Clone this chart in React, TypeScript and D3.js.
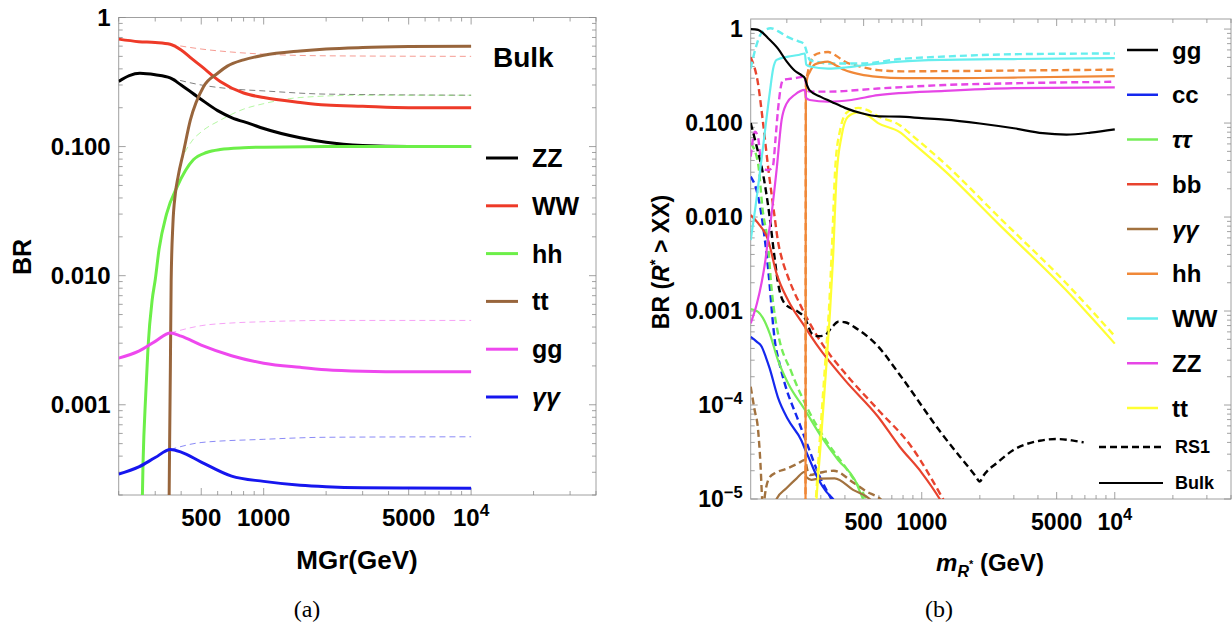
import React from "react";
import * as d3 from "d3";

type Pt = [number, number];

// ---------- (a) Bulk graviton: solid = Bulk, thin dashed = RS1 reference ----------
const aZZ: Pt[] = [[200, 0.32], [225, 0.355], [253, 0.37], [300, 0.36], [354, 0.34], [400, 0.3], [494, 0.235], [600, 0.19], [700, 0.168], [863, 0.15], [1000, 0.138], [1500, 0.117], [2000, 0.108], [3000, 0.102], [5000, 0.1], [10000, 0.1]];
const aWW: Pt[] = [[200, 0.68], [250, 0.65], [300, 0.64], [354, 0.62], [400, 0.56], [450, 0.48], [500, 0.42], [617, 0.32], [800, 0.26], [1000, 0.24], [1500, 0.22], [2000, 0.21], [3000, 0.205], [5000, 0.2], [10000, 0.2]];
const aHH: Pt[] = [[250, 1e-6], [258, 1e-4], [262, 3.5e-4], [270, 0.0012], [277, 0.0028], [290, 0.0065], [300, 0.0093], [313, 0.016], [340, 0.03], [383, 0.049], [458, 0.079], [530, 0.09], [617, 0.095], [800, 0.098], [1000, 0.099], [2000, 0.1], [10000, 0.1]];
const aTT: Pt[] = [[345, 1e-6], [349, 1e-4], [352, 5e-4], [355, 0.002], [358, 0.009], [365, 0.025], [375, 0.043], [387, 0.059], [410, 0.09], [443, 0.16], [512, 0.29], [600, 0.37], [668, 0.42], [800, 0.47], [1000, 0.51], [1500, 0.55], [2000, 0.57], [3000, 0.585], [5000, 0.595], [10000, 0.6]];
const aGG: Pt[] = [[200, 0.0023], [250, 0.0026], [300, 0.0031], [355, 0.0036], [400, 0.0034], [500, 0.0029], [700, 0.0024], [1000, 0.0021], [1500, 0.00195], [2000, 0.00187], [3000, 0.00182], [5000, 0.0018], [10000, 0.0018]];
const aAA: Pt[] = [[200, 2.9e-4], [250, 3.3e-4], [300, 3.9e-4], [355, 4.5e-4], [400, 4.3e-4], [500, 3.6e-4], [700, 2.8e-4], [1000, 2.55e-4], [1500, 2.38e-4], [2000, 2.32e-4], [3000, 2.28e-4], [5000, 2.27e-4], [10000, 2.26e-4]];

const aZZrs: Pt[] = [[355, 0.34], [500, 0.3], [700, 0.28], [1000, 0.27], [2000, 0.255], [10000, 0.25]];
const aWWrs: Pt[] = [[355, 0.62], [500, 0.57], [700, 0.54], [1000, 0.52], [2000, 0.505], [10000, 0.5]];
const aHHrs: Pt[] = [[365, 0.038], [400, 0.075], [450, 0.11], [500, 0.13], [617, 0.16], [800, 0.195], [1000, 0.215], [1500, 0.24], [3000, 0.25], [10000, 0.25]];
const aGGrs: Pt[] = [[355, 0.0036], [500, 0.0041], [700, 0.0043], [1000, 0.0044], [2000, 0.0045], [10000, 0.0045]];
const aAArs: Pt[] = [[355, 4.5e-4], [500, 5.1e-4], [1000, 5.4e-4], [2000, 5.6e-4], [10000, 5.65e-4]];

const aLegend = ["ZZ", "WW", "hh", "tt", "gg", "γγ"];
const aXMajor = [500, 1000, 5000, 10000];
const aYMajor = [1, 0.1, 0.01, 0.001];

// ---------- (b) R* decays: solid = Bulk, dashed = RS1 ----------
const bGG: Pt[] = [[130, 1.0], [142, 0.98], [160, 0.8], [180, 0.62], [200, 0.45], [220, 0.36], [240, 0.32], [248, 0.3], [255, 0.25], [262, 0.224], [300, 0.19], [340, 0.169], [400, 0.145], [488, 0.127], [600, 0.118], [769, 0.117], [1000, 0.113], [1316, 0.109], [2000, 0.099], [3000, 0.088], [4237, 0.078], [5621, 0.0755], [7500, 0.079], [10000, 0.0856]];
const bGGrs: Pt[] = [[130, 0.1], [140, 0.055], [150, 0.03], [163, 0.01], [172, 0.004], [180, 0.002], [195, 0.0012], [229, 0.00098], [248, 0.00084], [258, 0.0007], [268, 0.00058], [290, 0.00054], [314, 0.00055], [340, 0.00066], [370, 0.00077], [400, 0.00076], [450, 0.00067], [594, 0.00042], [769, 0.00021], [1265, 5e-5], [1900, 1.75e-5], [1998, 1.53e-5], [2080, 1.75e-5], [2500, 2.5e-5], [2971, 3.3e-5], [4085, 4.17e-5], [4990, 4.35e-5], [6000, 4.2e-5], [6900, 4.0e-5]];
const bCC: Pt[] = [[130, 5.3e-4], [140, 4.7e-4], [148, 4.2e-4], [156, 3.2e-4], [163, 2.45e-4], [180, 1.2e-4], [203, 7e-5], [238, 4.2e-5], [250, 3.3e-5], [265, 2.5e-5], [290, 1.65e-5], [320, 1.2e-5], [347, 1e-5], [370, 8e-6]];
const bCCrs: Pt[] = [[130, 0.027], [142, 0.0166], [150, 0.0086], [154, 0.0057], [163, 0.0019], [168, 9e-4], [173, 5e-4], [183, 2.8e-4], [195, 1.7e-4], [229, 6.9e-5], [258, 3.6e-5], [290, 1.9e-5], [340, 1e-5], [360, 8e-6]];
const bTauTau: Pt[] = [[130, 1.05e-3], [142, 9.8e-4], [150, 8.5e-4], [163, 5.8e-4], [180, 3.0e-4], [203, 1.7e-4], [248, 8.9e-5], [302, 4.6e-5], [369, 2.6e-5], [450, 1.6e-5], [497, 1e-5], [530, 8e-6]];
const bTauTaurs: Pt[] = [[130, 0.061], [142, 0.037], [150, 0.0118], [160, 0.005], [166, 0.0019], [172, 0.001], [180, 5.8e-4], [212, 2.2e-4], [258, 8.9e-5], [327, 3.9e-5], [415, 2.0e-5], [517, 1e-5], [550, 8e-6]];
const bBB: Pt[] = [[130, 0.0105], [142, 0.0086], [160, 0.0057], [177, 0.0025], [203, 0.0013], [248, 6.8e-4], [290, 4.2e-4], [399, 1.85e-4], [594, 7.5e-5], [769, 3.6e-5], [1000, 1.9e-5], [1240, 1e-5], [1300, 8.5e-6]];
const bBBrs: Pt[] = [[130, 0.5], [142, 0.26], [150, 0.108], [160, 0.034], [173, 0.01], [180, 0.0055], [188, 0.0037], [203, 0.0023], [238, 0.0011], [302, 4.6e-4], [399, 2.2e-4], [594, 8.9e-5], [884, 3.6e-5], [1290, 1e-5], [1350, 8.5e-6]];
const bAA: Pt[] = [[170, 7e-6], [177, 1e-5], [199, 1.3e-5], [225, 1.66e-5], [248, 1.95e-5], [253, 1.7e-5], [268, 1.6e-5], [296, 1.65e-5], [354, 1.66e-5], [441, 1.25e-5], [538, 1e-5], [580, 8.5e-6]];
const bAArs: Pt[] = [[130, 1.57e-4], [136, 9e-5], [142, 5.4e-5], [146, 2.4e-5], [149, 1e-5], [151, 7e-6], [154, 1.1e-5], [163, 1.7e-5], [175, 1.9e-5], [199, 2.1e-5], [225, 2.35e-5], [248, 2.6e-5], [256, 2.0e-5], [263, 1.8e-5], [296, 1.9e-5], [350, 2.0e-5], [441, 1.5e-5], [519, 1.2e-5], [610, 1e-5], [660, 8.5e-6]];
const bHH: Pt[] = [[249, 5e-6], [250, 1e-5], [250.6, 0.01], [251, 0.2], [255, 0.3], [263, 0.35], [279, 0.42], [300, 0.44], [327, 0.45], [360, 0.41], [399, 0.366], [480, 0.33], [594, 0.31], [800, 0.3], [1316, 0.3], [3000, 0.305], [10000, 0.316]];
const bHHrs: Pt[] = [[249, 5e-6], [250, 1e-5], [250.6, 0.01], [251, 0.25], [258, 0.36], [266, 0.45], [279, 0.53], [300, 0.56], [327, 0.57], [360, 0.52], [399, 0.45], [480, 0.4], [594, 0.366], [800, 0.355], [1316, 0.357], [3000, 0.362], [10000, 0.37]];
const bWW: Pt[] = [[130, 0.0057], [137, 0.012], [150, 0.052], [163, 0.207], [170, 0.38], [177, 0.47], [203, 0.51], [230, 0.53], [248, 0.55], [252, 0.42], [263, 0.4], [327, 0.38], [400, 0.39], [488, 0.41], [769, 0.45], [1316, 0.47], [3000, 0.48], [10000, 0.49]];
const bWWrs: Pt[] = [[130, 0.38], [137, 0.6], [145, 0.85], [154, 0.98], [165, 1.02], [180, 0.95], [203, 0.82], [230, 0.74], [245, 0.7], [255, 0.55], [263, 0.47], [300, 0.44], [327, 0.43], [488, 0.43], [769, 0.48], [1316, 0.51], [3000, 0.54], [10000, 0.55]];
const bZZ: Pt[] = [[130, 7.4e-4], [140, 0.0012], [148, 0.002], [155, 0.0035], [160, 0.006], [166, 0.01], [177, 0.0316], [188, 0.108], [199, 0.16], [220, 0.2], [248, 0.225], [252, 0.185], [263, 0.176], [327, 0.169], [432, 0.176], [594, 0.198], [1316, 0.22], [3000, 0.235], [10000, 0.24]];
const bZZrs: Pt[] = [[130, 0.044], [137, 0.081], [142, 0.07], [148, 0.034], [160, 0.0316], [169, 0.034], [175, 0.07], [180, 0.138], [191, 0.287], [220, 0.3], [242, 0.31], [248, 0.3], [255, 0.23], [263, 0.216], [327, 0.216], [594, 0.233], [1316, 0.254], [3000, 0.265], [10000, 0.275]];
const bTop: Pt[] = [[283, 8e-6], [285, 1e-5], [300, 4e-5], [320, 2.5e-4], [335, 0.001], [347, 0.0036], [362, 0.027], [384, 0.072], [415, 0.117], [468, 0.13], [520, 0.122], [594, 0.1], [769, 0.08], [884, 0.063], [1316, 0.031], [2535, 0.0082], [5570, 0.00168], [10000, 4.5e-4]];
const bToprs: Pt[] = [[281, 8e-6], [283, 1e-5], [298, 5e-5], [317, 3e-4], [332, 0.0012], [343, 0.005], [357, 0.035], [378, 0.085], [410, 0.13], [468, 0.145], [520, 0.138], [594, 0.118], [769, 0.095], [884, 0.075], [1316, 0.037], [2535, 0.0098], [5570, 0.002], [10000, 5.4e-4]];

const bLegend = ["gg", "cc", "ττ", "bb", "γγ", "hh", "WW", "ZZ", "tt"];
const bXMajor = [500, 1000, 5000, 10000];
const bYMajor = [1, 0.1, 0.01, 0.001, 1e-4, 1e-5];

// ---------- styling ----------
const SANS = "'Liberation Sans', Arial, sans-serif";
const SERIF = "'Liberation Serif', 'DejaVu Serif', serif";

const aColors = ["#000000", "#ee3a28", "#6cef48", "#98653c", "#ee48ee", "#1616ee"];
const bColors = ["#000000", "#1428ee", "#76ee58", "#e8432e", "#a2723f", "#f08838", "#66eeee", "#e646e6", "#ffff33"];

type Series = { data: Pt[]; color: string; width: number; dash?: string; opacity?: number };

type PanelProps = {
  id: string;
  left: number; right: number; top: number; bottom: number;
  xDomain: [number, number]; yDomain: [number, number];
  xMajor: number[]; yMajor: number[];
  series: Series[];
  fs: number;
};

function minorTicks(domain: [number, number], majors: number[]) {
  const out: number[] = [];
  const lo = Math.floor(Math.log10(domain[0]));
  const hi = Math.ceil(Math.log10(domain[1]));
  for (let e = lo; e <= hi; e++) {
    for (let k = 1; k <= 9; k++) {
      const v = k * Math.pow(10, e);
      if (v < domain[0] * 0.999 || v > domain[1] * 1.001) continue;
      if (majors.some(m => Math.abs(m - v) / v < 1e-6)) continue;
      out.push(v);
    }
  }
  return out;
}

const supExp = (v: number) => {
  const e = Math.round(Math.log10(v));
  return e < 0 ? "\u2212" + -e : String(e);
};

const xLabel = (v: number, fs: number) =>
  v >= 10000 ? (
    <>10<tspan dy={-fs * 0.42} fontSize={fs * 0.72}>{supExp(v)}</tspan></>
  ) : (
    String(v)
  );

const yLabel = (v: number, fs: number) => {
  if (v === 1) return "1";
  if (v >= 0.001) return d3.format(".3f")(v);
  return <>10<tspan dy={-fs * 0.42} fontSize={fs * 0.72}>{supExp(v)}</tspan></>;
};

function Panel(p: PanelProps) {
  const x = d3.scaleLog().domain(p.xDomain).range([p.left, p.right]);
  const y = d3.scaleLog().domain(p.yDomain).range([p.bottom, p.top]);
  const line = d3
    .line<Pt>()
    .x(d => x(d[0]))
    .y(d => y(d[1]))
    .curve(d3.curveMonotoneX);
  const xMinor = minorTicks(p.xDomain, p.xMajor);
  const yMinor = minorTicks(p.yDomain, p.yMajor);
  const tickCol = "#8a8a8a";

  return (
    <g>
      <defs>
        <clipPath id={p.id}>
          <rect x={p.left} y={p.top} width={p.right - p.left} height={p.bottom - p.top} />
        </clipPath>
      </defs>
      <rect x={p.left} y={p.top} width={p.right - p.left} height={p.bottom - p.top}
        fill="none" stroke="#a0a0a0" strokeWidth={1} />
      {/* ticks on all four sides, pointing inward */}
      {[...p.xMajor.map(v => [v, 7]), ...xMinor.map(v => [v, 4])].map(([v, len], i) => (
        <g key={"xt" + i} stroke={tickCol} strokeWidth={0.8}>
          <line x1={x(v)} x2={x(v)} y1={p.bottom} y2={p.bottom - len} />
          <line x1={x(v)} x2={x(v)} y1={p.top} y2={p.top + len} />
        </g>
      ))}
      {[...p.yMajor.map(v => [v, 7]), ...yMinor.map(v => [v, 4])].map(([v, len], i) => (
        <g key={"yt" + i} stroke={tickCol} strokeWidth={0.8}>
          <line x1={p.left} x2={p.left + len} y1={y(v)} y2={y(v)} />
          <line x1={p.right} x2={p.right - len} y1={y(v)} y2={y(v)} />
        </g>
      ))}
      {p.xMajor.map(v => (
        <text key={"xl" + v} x={x(v)} y={p.bottom + 31} textAnchor="middle"
          fontFamily={SANS} fontWeight="bold" fontSize={p.fs}>
          {xLabel(v, p.fs)}
        </text>
      ))}
      {p.yMajor.map(v => (
        <text key={"yl" + v} x={p.left - 8} y={y(v) + p.fs * 0.36} textAnchor="end"
          fontFamily={SANS} fontWeight="bold" fontSize={p.fs}>
          {yLabel(v, p.fs)}
        </text>
      ))}
      <g clipPath={`url(#${p.id})`}>
        {p.series.map((s, i) => (
          <path key={i} d={line(s.data) || ""} fill="none" stroke={s.color}
            strokeWidth={s.width} strokeDasharray={s.dash} strokeOpacity={s.opacity ?? 1}
            strokeLinejoin="round" />
        ))}
      </g>
    </g>
  );
}

const App = () => {
  const thin = (data: Pt[], color: string): Series => ({ data, color, width: 1, dash: "6,4", opacity: 0.5 });
  const thick = (data: Pt[], color: string): Series => ({ data, color, width: 3 });

  const aSeries: Series[] = [
    thin(aZZrs, aColors[0]), thin(aWWrs, aColors[1]), thin(aHHrs, aColors[2]),
    thin(aGGrs, aColors[4]), thin(aAArs, aColors[5]),
    thick(aZZ, aColors[0]), thick(aWW, aColors[1]), thick(aHH, aColors[2]),
    thick(aTT, aColors[3]), thick(aGG, aColors[4]), thick(aAA, aColors[5]),
  ];

  const bDash = (data: Pt[], color: string): Series => ({ data, color, width: 2.4, dash: "7,4" });
  const bSolid = (data: Pt[], color: string): Series => ({ data, color, width: 2.2 });
  const bPairs: [Pt[], Pt[]][] = [
    [bGG, bGGrs], [bCC, bCCrs], [bTauTau, bTauTaurs], [bBB, bBBrs], [bAA, bAArs],
    [bHH, bHHrs], [bWW, bWWrs], [bZZ, bZZrs], [bTop, bToprs],
  ];
  const bSeries: Series[] = [
    ...bPairs.map(([, rs], i) => bDash(rs, bColors[i])).slice(1),
    bDash(bGGrs, bColors[0]),
    ...bPairs.map(([bulk], i) => bSolid(bulk, bColors[i])).slice(1),
    bSolid(bGG, bColors[0]),
  ];

  return (
    <svg width={1232} height={623} style={{ position: "absolute", left: 0, top: 0, background: "#fff" }}>
      <Panel id="clipA" left={118.7} right={596} top={17.5} bottom={495}
        xDomain={[200, 40000]} yDomain={[2e-4, 1]} xMajor={aXMajor} yMajor={aYMajor}
        series={aSeries} fs={24} />
      <Panel id="clipB" left={750.7} right={1231} top={19} bottom={499}
        xDomain={[130, 40000]} yDomain={[1e-5, 1.28]} xMajor={bXMajor} yMajor={bYMajor}
        series={bSeries} fs={23} />

      {/* (a) legend */}
      <text x={493} y={67} fontFamily={SANS} fontWeight="bold" fontSize={28}>Bulk</text>
      {aLegend.map((name, i) => {
        const yy = 158 + i * 47.8;
        return (
          <g key={name}>
            <line x1={486} x2={518} y1={yy} y2={yy} stroke={aColors[i]} strokeWidth={3} />
            <text x={532} y={yy + 9} fontFamily={SANS} fontWeight="bold" fontSize={25}
              fontStyle={/[γτ]/.test(name) ? "italic" : "normal"}>{name}</text>
          </g>
        );
      })}

      {/* (b) legend */}
      {bLegend.map((name, i) => {
        const yy = 50 + i * 44.75;
        return (
          <g key={name}>
            <line x1={1127} x2={1158} y1={yy} y2={yy} stroke={bColors[i]} strokeWidth={2.5} />
            <text x={1172} y={yy + 8.5} fontFamily={SANS} fontWeight="bold" fontSize={24}
              fontStyle={/[γτ]/.test(name) ? "italic" : "normal"}>{name}</text>
          </g>
        );
      })}
      <line x1={1099} x2={1161} y1={447} y2={447} stroke="#000" strokeWidth={2.4} strokeDasharray="7,4" />
      <text x={1175} y={453} fontFamily={SANS} fontWeight="bold" fontSize={18}>RS1</text>
      <line x1={1099} x2={1163} y1={483} y2={483} stroke="#000" strokeWidth={2.2} />
      <text x={1175} y={489} fontFamily={SANS} fontWeight="bold" fontSize={18}>Bulk</text>

      {/* axis titles */}
      <text transform="translate(31,257) rotate(-90)" textAnchor="middle"
        fontFamily={SANS} fontWeight="bold" fontSize={25}>BR</text>
      <text x={357} y={569} textAnchor="middle" fontFamily={SANS} fontWeight="bold" fontSize={26}>MGr(GeV)</text>

      <text transform="translate(669,262) rotate(-90)" textAnchor="middle"
        fontFamily={SANS} fontWeight="bold" fontSize={23}>
        BR (<tspan fontStyle="italic">R</tspan><tspan dy={-9} fontSize={15}>*</tspan>
        <tspan dy={9}> &gt; XX)</tspan>
      </text>
      <text x={990} y={571} textAnchor="middle" fontFamily={SANS} fontWeight="bold" fontSize={24}>
        <tspan fontStyle="italic">m</tspan>
        <tspan dy={6} fontSize={16} fontStyle="italic">R</tspan>
        <tspan dy={-9} fontSize={11}>*</tspan>
        <tspan dy={3}> (GeV)</tspan>
      </text>

      {/* captions */}
      <text x={307} y={617} textAnchor="middle" fontFamily={SERIF} fontSize={24}>(a)</text>
      <text x={939} y={617} textAnchor="middle" fontFamily={SERIF} fontSize={24}>(b)</text>
    </svg>
  );
};

export default App;
